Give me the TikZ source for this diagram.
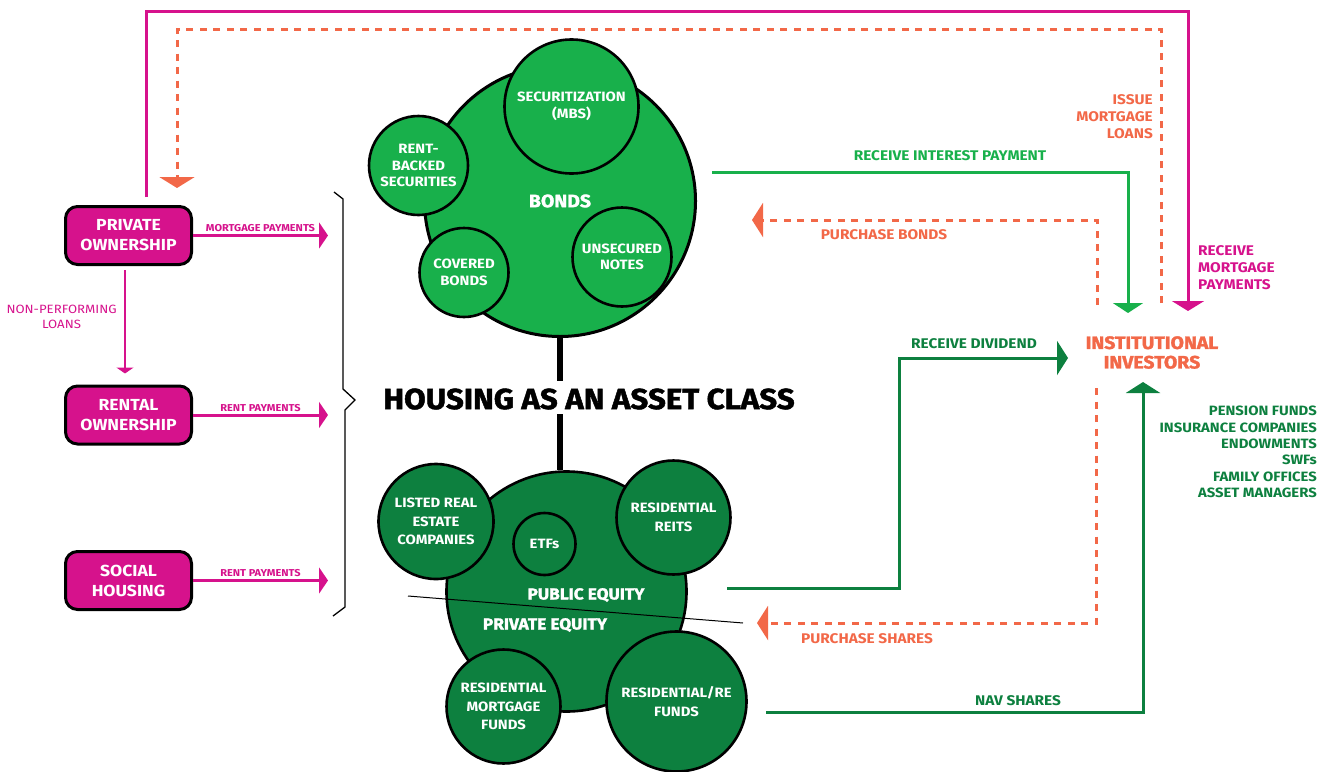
\documentclass[tikz,border=0pt]{standalone}
\usepackage{fontspec}
\setmainfont{Fira Sans}[FakeStretch=1.1]
\newfontfamily\heavyfam{Fira Sans}[FakeStretch=1.08, BoldFeatures={FakeBold=1.6}]
\newcommand\heavyfont{\heavyfam\bfseries}
\usetikzlibrary{arrows.meta,positioning}

\definecolor{magent}{HTML}{D6128C}
\definecolor{coral}{HTML}{F26848}
\definecolor{bondgreen}{HTML}{18B04B}
\definecolor{eqgreen}{HTML}{0D803F}

\tikzset{
  owner/.style={draw=black, line width=3pt, fill=magent, rounded corners=12pt,
    minimum width=126pt, minimum height=58pt, text=white, align=center,
    font=\bfseries\fontsize{16}{20}\selectfont},
  bondbig/.style={circle, draw=black, line width=3pt, fill=bondgreen, inner sep=0pt,
    text=white, font=\heavyfont\fontsize{18}{20}\selectfont},
  bondcirc/.style={circle, draw=black, line width=2.6pt, fill=bondgreen, inner sep=0pt,
    text=white, align=center, font=\bfseries\fontsize{13.5}{16.5}\selectfont},
  eqcirc/.style={circle, draw=black, line width=2.6pt, fill=eqgreen, inner sep=0pt,
    text=white, align=center, font=\bfseries\fontsize{13.5}{18.5}\selectfont},
  eqlabel/.style={text=white, inner sep=0pt, font=\heavyfont\fontsize{16}{18}\selectfont},
  pay/.style={magent, line width=3pt, -{Triangle[width=26pt,length=9pt]}},
  paylabel/.style={magent, inner sep=2pt, font=\bfseries\fontsize{10}{12}\selectfont},
  flowlabel/.style={inner sep=0pt, font=\bfseries\fontsize{14}{17}\selectfont},
  loan/.style={coral, line width=3pt, dash pattern=on 7pt off 6.5pt},
  bigtip/.style={-{Triangle[width=34pt,length=11pt]}},
}

\begin{document}
\begin{tikzpicture}[x=1pt,y=-1pt]
\useasboundingbox (0,0) rectangle (1330,771);

% housing types
\node[owner] (private) at (128.5,235.5) {PRIVATE\\OWNERSHIP};
\node[owner] (rental) at (128.5,415) {RENTAL\\OWNERSHIP};
\node[owner] (social) at (128.5,580.5) {SOCIAL\\HOUSING};

\coordinate (brace) at (328,0);
\draw[pay] (private.east) -- (private.east -| brace)
  node[paylabel, midway, above] {MORTGAGE PAYMENTS};
\draw[pay] (rental.east) -- (rental.east -| brace)
  node[paylabel, midway, above] {RENT PAYMENTS};
\draw[pay] (social.east) -- (social.east -| brace)
  node[paylabel, midway, above] {RENT PAYMENTS};
\draw[magent, line width=2pt, -{Triangle[width=17pt,length=6pt]}]
  ([xshift=-3.5pt,yshift=-4pt]private.south) -- ([xshift=-3.5pt,yshift=11pt]rental.north)
  node[left=4pt, pos=0.45, align=center, font=\fontsize{12}{15}\selectfont] {NON-PERFORMING\\LOANS};

% brace
\draw[line width=1.3pt] (334,192) -- (343,199) -- (343,389) -- (355,400) -- (345,410) -- (345,607) -- (333,616);

% bonds
\node[bondbig, minimum size=271pt] (bonds) at (560,201) {BONDS};
\node[bondcirc, minimum size=134pt] (mbs) at (571.5,106.5) {SECURITIZATION\\(MBS)};
\node[bondcirc, minimum size=99pt] (rbs) at (418.5,165.5) {RENT-\\BACKED\\SECURITIES};
\node[bondcirc, minimum size=89pt] (covered) at (464,272.5) {COVERED\\BONDS};
\node[bondcirc, minimum size=99pt] (notes) at (622,257) {UNSECURED\\NOTES};

% title
\node[font=\heavyfont\fontsize{29}{32}\selectfont, inner sep=0pt] (title) at (589,399) {HOUSING AS AN ASSET CLASS};

% equity
\node[eqcirc, minimum size=240pt] (equity) at (566.5,591.5) {};
\draw[line width=6pt] (bonds.south) -- (bonds.south |- 0,381);
\draw[line width=6pt] (bonds.south |- 0,414) -- (bonds.south |- equity.north);
\draw[line width=1pt] (408,596) -- (743,623);
\node[eqlabel] (public) at (586,595) {PUBLIC EQUITY};
\node[eqlabel] (privateeq) at (545,625) {PRIVATE EQUITY};
\node[eqcirc, minimum size=115pt] (listed) at (436,521.5) {LISTED REAL\\ESTATE\\COMPANIES};
\node[eqcirc, minimum size=62pt] (etf) at (544.5,544) {ETFs};
\node[eqcirc, minimum size=114pt] (reits) at (673.5,517.5) {RESIDENTIAL\\REITS};
\node[eqcirc, minimum size=114pt] (mfunds) at (503.5,706.5) {RESIDENTIAL\\MORTGAGE\\FUNDS};
\node[eqcirc, minimum size=140pt] (refunds) at (676.5,701.5) {RESIDENTIAL/RE\\FUNDS};

% investors
\node[coral, align=center, inner sep=0pt, font=\heavyfont\fontsize{18}{19.5}\selectfont] (ii) at (1152,352.5) {INSTITUTIONAL\\INVESTORS};
\node[eqgreen, align=right, anchor=east, inner sep=0pt, font=\bfseries\fontsize{13.5}{16.4}\selectfont] (kinds) at (1317,452)
  {PENSION FUNDS\\INSURANCE COMPANIES\\ENDOWMENTS\\SWFs\\FAMILY OFFICES\\ASSET MANAGERS};

% free ends of the flows
\coordinate (magtop) at (0,11);
\coordinate (loantop) at (0,29);
\coordinate (loanstart) at (1161,303);
\coordinate (loantip) at (177,188);
\coordinate (morttip) at (1188,311);
\coordinate (bondsout) at (712,172);
\coordinate (inttip) at (1128,313);
\coordinate (pbstart) at (1097,305);
\coordinate (pbtip) at (752,220);
\coordinate (pubout) at (727,588);
\coordinate (divknee) at (899,358);
\coordinate (divtip) at (1068,358);
\coordinate (psstart) at (1096,388);
\coordinate (pstip) at (757,623);
\coordinate (peout) at (766,712);
\coordinate (navtip) at (1143,382);

% flows
\draw[magent, line width=3pt, -{Triangle[width=32pt,length=10pt]}]
  ([xshift=17.5pt,yshift=8pt]private.north) |- (magtop -| morttip) -- (morttip);
\draw[loan, -{Triangle[width=35pt,length=11pt]}]
  (loanstart) |- (loantop -| loantip) -- (loantip);
\draw[bondgreen, line width=3pt, -{Triangle[width=30pt,length=10pt]}] (bondsout) -| (inttip);
\draw[loan, bigtip] (pbstart) |- (pbtip);
\draw[eqgreen, line width=3pt, bigtip] (pubout) -| (divknee) -- (divtip);
\draw[loan, bigtip] (psstart) |- (pstip);
\draw[eqgreen, line width=3pt, bigtip] (peout) -| (navtip);

% flow labels
\node[flowlabel, coral, align=right, anchor=east] (issue) at (1153,117) {ISSUE\\MORTGAGE\\LOANS};
\node[flowlabel, magent, align=left, anchor=west] (receivemort) at (1198,267.5) {RECEIVE\\MORTGAGE\\PAYMENTS};
\node[flowlabel, bondgreen] (interest) at (950,156) {RECEIVE INTEREST PAYMENT};
\node[flowlabel, coral] (pbonds) at (884,235) {PURCHASE BONDS};
\node[flowlabel, eqgreen] (dividend) at (974,344) {RECEIVE DIVIDEND};
\node[flowlabel, coral] (pshares) at (867,639) {PURCHASE SHARES};
\node[flowlabel, eqgreen] (nav) at (1018,701) {NAV SHARES};
\end{tikzpicture}
\end{document}
